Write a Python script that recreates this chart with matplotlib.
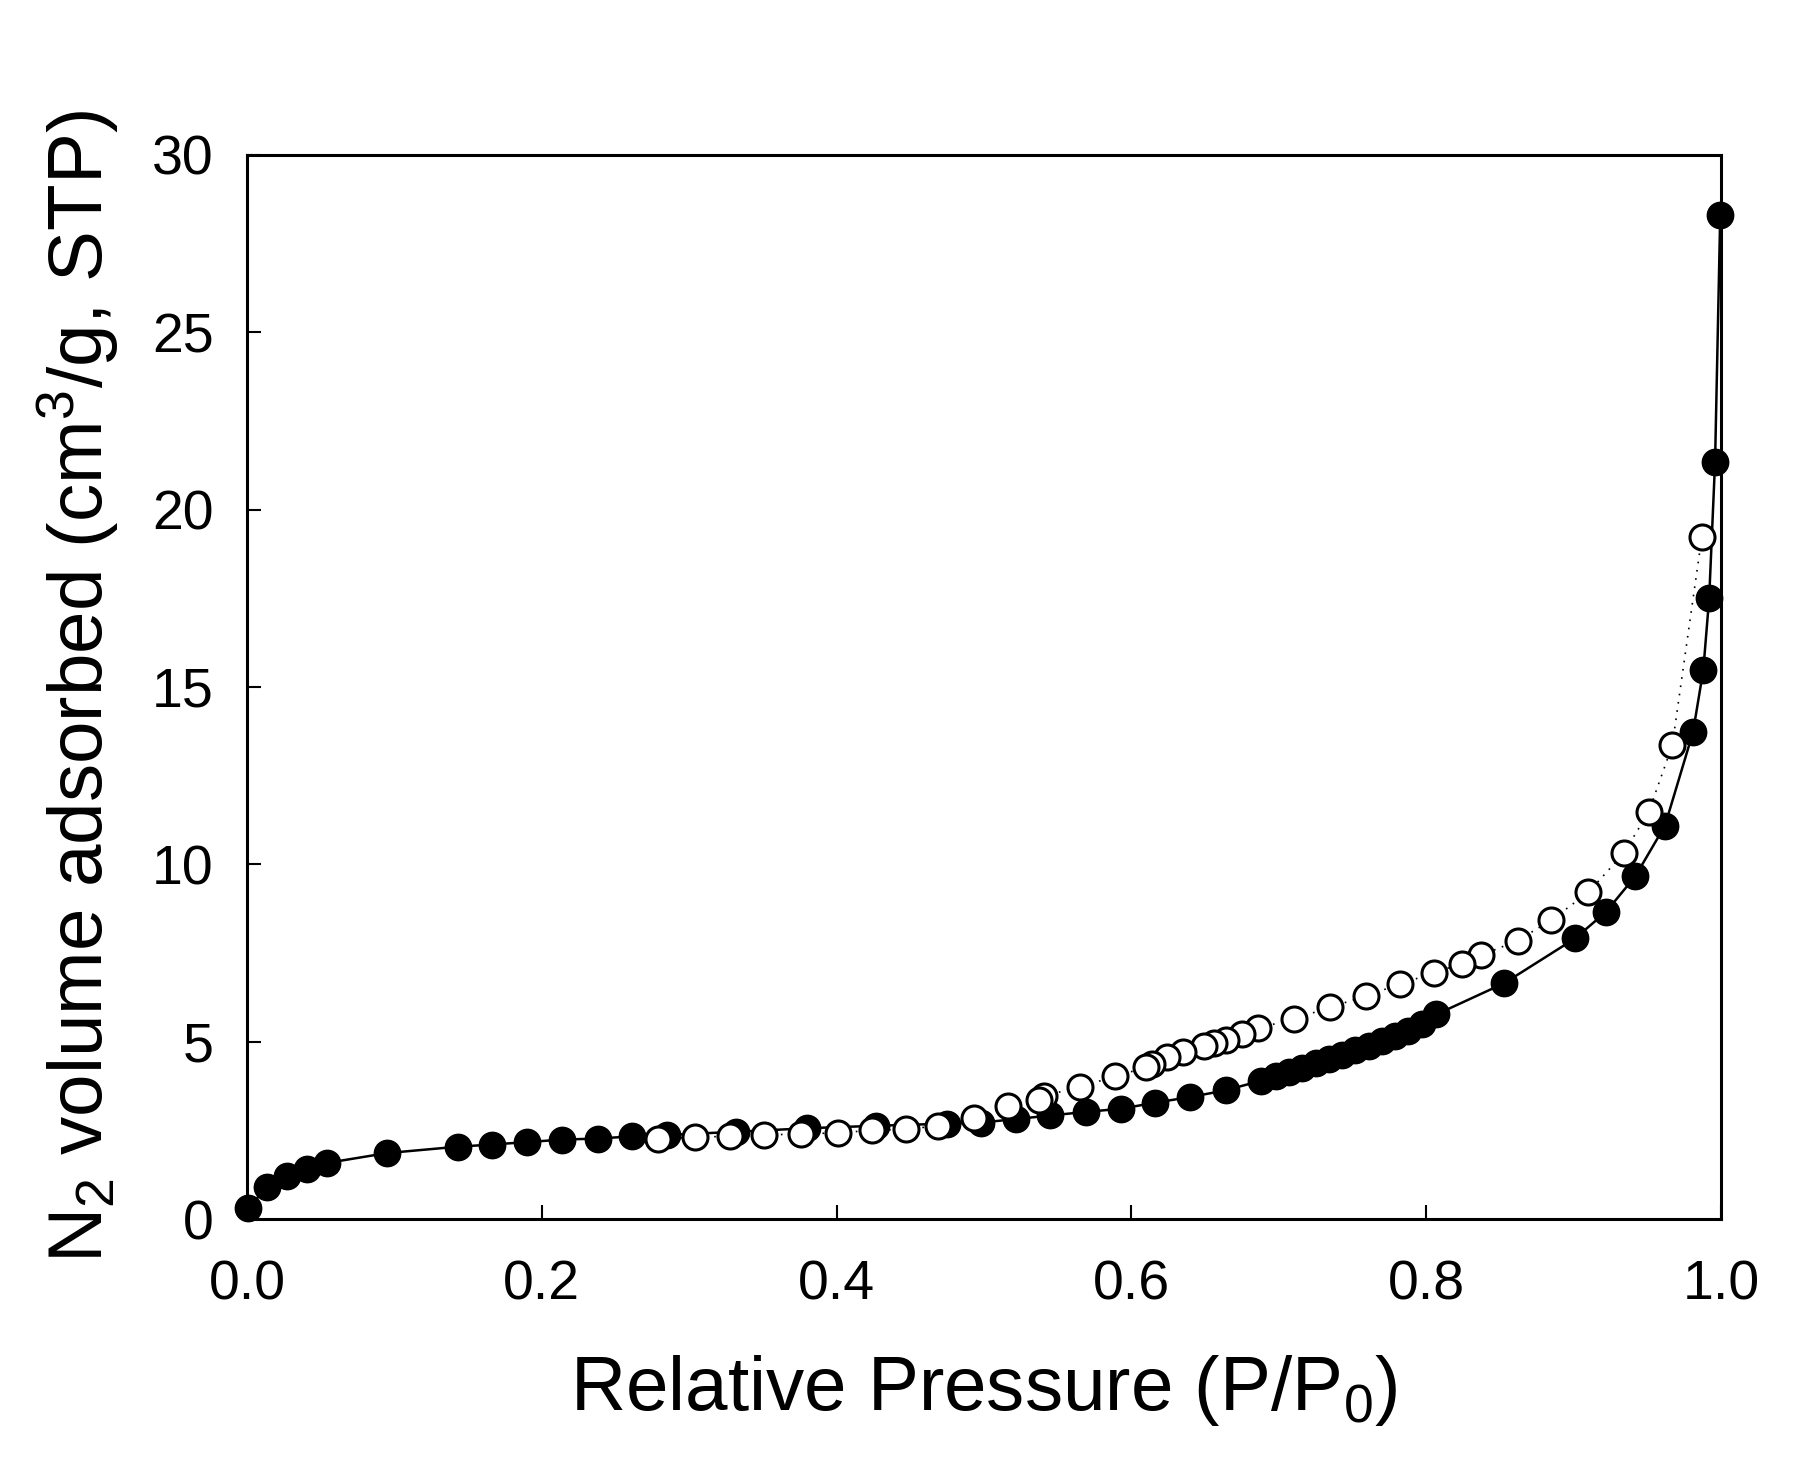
"""
N2 adsorption-desorption isotherm
"""

import matplotlib
matplotlib.use('Agg')
import matplotlib.pyplot as plt

plt.rcParams['font.family'] = ['Liberation Sans', 'DejaVu Sans']
plt.rcParams['mathtext.fontset'] = 'custom'
plt.rcParams['mathtext.rm'] = 'Liberation Sans'
plt.rcParams['mathtext.it'] = 'Liberation Sans'

# adsorption branch (filled circles)
ads_p = [0.0007, 0.0136, 0.027, 0.041, 0.054, 0.095, 0.143, 0.166, 0.190, 0.214,
         0.238, 0.261, 0.285, 0.332, 0.380, 0.427, 0.475, 0.498, 0.522, 0.545,
         0.569, 0.593, 0.616, 0.640, 0.664, 0.688, 0.698, 0.707, 0.716, 0.725,
         0.734, 0.743, 0.752, 0.761, 0.770, 0.779, 0.788, 0.797, 0.807, 0.853,
         0.901, 0.922, 0.942, 0.962, 0.981, 0.988, 0.992, 0.996, 0.9995]
ads_v = [0.31, 0.90, 1.21, 1.41, 1.58, 1.86, 2.04, 2.10, 2.17, 2.24,
         2.27, 2.33, 2.37, 2.46, 2.56, 2.63, 2.69, 2.72, 2.82, 2.92,
         3.02, 3.11, 3.28, 3.44, 3.63, 3.90, 4.03, 4.15, 4.27, 4.39,
         4.51, 4.63, 4.76, 4.89, 5.02, 5.16, 5.31, 5.49, 5.77, 6.65,
         7.91, 8.66, 9.67, 11.09, 13.72, 15.47, 17.50, 21.34, 28.30]

# desorption branch (open circles)
des_p = [0.987, 0.967, 0.951, 0.934, 0.910, 0.885, 0.862, 0.837, 0.824, 0.805,
         0.782, 0.759, 0.735, 0.710, 0.686, 0.675, 0.664, 0.656, 0.649, 0.635,
         0.624, 0.614, 0.610, 0.589, 0.565, 0.541, 0.537, 0.516, 0.493, 0.469,
         0.447, 0.424, 0.401, 0.376, 0.351, 0.328, 0.304, 0.279]
des_v = [19.23, 13.36, 11.48, 10.31, 9.21, 8.43, 7.85, 7.43, 7.20, 6.94,
         6.62, 6.29, 5.97, 5.64, 5.38, 5.22, 5.06, 4.96, 4.87, 4.70,
         4.57, 4.38, 4.28, 4.02, 3.73, 3.47, 3.37, 3.18, 2.85, 2.63,
         2.53, 2.50, 2.43, 2.40, 2.37, 2.34, 2.30, 2.27]

fig = plt.figure(figsize=(18.03, 14.61), dpi=100)
ax = fig.add_axes([0.137, 0.1656, 0.8175, 0.7284])

ax.plot(ads_p, ads_v, color='black', linewidth=1.8, marker='o', markersize=19,
        markerfacecolor='black', markeredgecolor='black', clip_on=False, zorder=3)
ax.plot(des_p, des_v, color='black', linewidth=1.2, linestyle=(0, (1, 4)), marker='o',
        markersize=18, markerfacecolor='white', markeredgecolor='black',
        markeredgewidth=2.2, clip_on=False, zorder=4)

ax.set_xlim(0, 1.0)
ax.set_ylim(0, 30)
ax.set_xticks([0.0, 0.2, 0.4, 0.6, 0.8, 1.0])
ax.set_xticklabels(['0.0', '0.2', '0.4', '0.6', '0.8', '1.0'])
ax.set_yticks([0, 5, 10, 15, 20, 25, 30])

for s in ax.spines.values():
    s.set_linewidth(2.2)
ax.tick_params(direction='in', length=10, width=1.5, labelsize=40)
ax.tick_params(axis='x', pad=29)
ax.tick_params(axis='y', pad=24)

ax.set_xlabel('Relative Pressure (P/P$_0$)', fontsize=55, labelpad=30)
ax.set_ylabel('N$_2$ volume adsorbed (cm$^3$/g, STP)', fontsize=55, labelpad=22)

plt.savefig('out.png', dpi=100)
